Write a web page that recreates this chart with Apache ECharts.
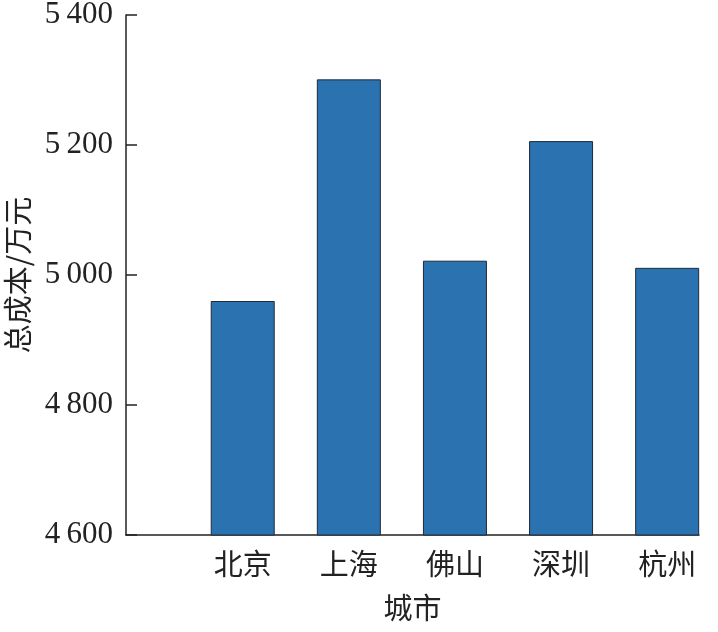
<!DOCTYPE html>
<html>
<head>
<meta charset="utf-8">
<script src="https://cdn.jsdelivr.net/npm/echarts@6/dist/echarts.min.js"></script>
<style>html,body{margin:0;padding:0;background:#fff;}#c{width:718px;height:632px;}</style>
</head>
<body>
<div id="c"></div>
<script>
var cities = ['北京', '上海', '佛山', '深圳', '杭州'];
var positions = [1, 2, 3, 4, 5];
var totalCost = [4960, 5301, 5022, 5206, 5011];
var yTicks = [4600, 4800, 5000, 5200, 5400];

var chart = echarts.init(document.getElementById('c'));
var serif = '"Liberation Serif", "Noto Sans CJK SC", serif';
var cjk = '"Noto Sans CJK SC", "Liberation Serif", serif';
chart.setOption({
  animation: false,
  grid: {left: 126, right: 19, top: 15, bottom: 97, containLabel: false, outerBoundsMode: 'none'},
  xAxis: {
    type: 'value', min: -0.1, max: 5.3,
    name: '城市', nameLocation: 'middle', nameGap: 58,
    nameTextStyle: {fontFamily: cjk, fontSize: 29, color: '#222'},
    axisLine: {show: true, onZero: false, lineStyle: {color: '#222', width: 1.5}},
    axisTick: {show: false},
    splitLine: {show: false},
    axisLabel: {
      customValues: positions,
      margin: 14, fontFamily: cjk, fontSize: 29, color: '#222',
      formatter: function (v) { var i = positions.indexOf(v); return i >= 0 ? cities[i] : ''; }
    }
  },
  yAxis: {
    type: 'value', min: yTicks[0], max: yTicks[yTicks.length - 1], interval: 200,
    name: '总成本/万元', nameLocation: 'middle', nameGap: 94, nameRotate: 90,
    nameTextStyle: {fontFamily: cjk, fontSize: 29, color: '#222'},
    axisLine: {show: true, onZero: false, lineStyle: {color: '#222', width: 1.5}},
    axisTick: {show: true, inside: true, length: 11, lineStyle: {color: '#222', width: 1.5}},
    splitLine: {show: false},
    axisLabel: {
      margin: 13, fontFamily: serif, fontSize: 31, color: '#222',
      formatter: function (v) { var s = String(v); return s.charAt(0) + '\u2009' + s.slice(1); }
    }
  },
  series: [{
    type: 'bar',
    barWidth: 64,
    data: positions.map(function (p, i) { return [p, totalCost[i]]; }),
    itemStyle: {color: '#2a72b0', borderColor: '#1f2b3a', borderWidth: 1}
  }]
});
</script>
</body>
</html>
